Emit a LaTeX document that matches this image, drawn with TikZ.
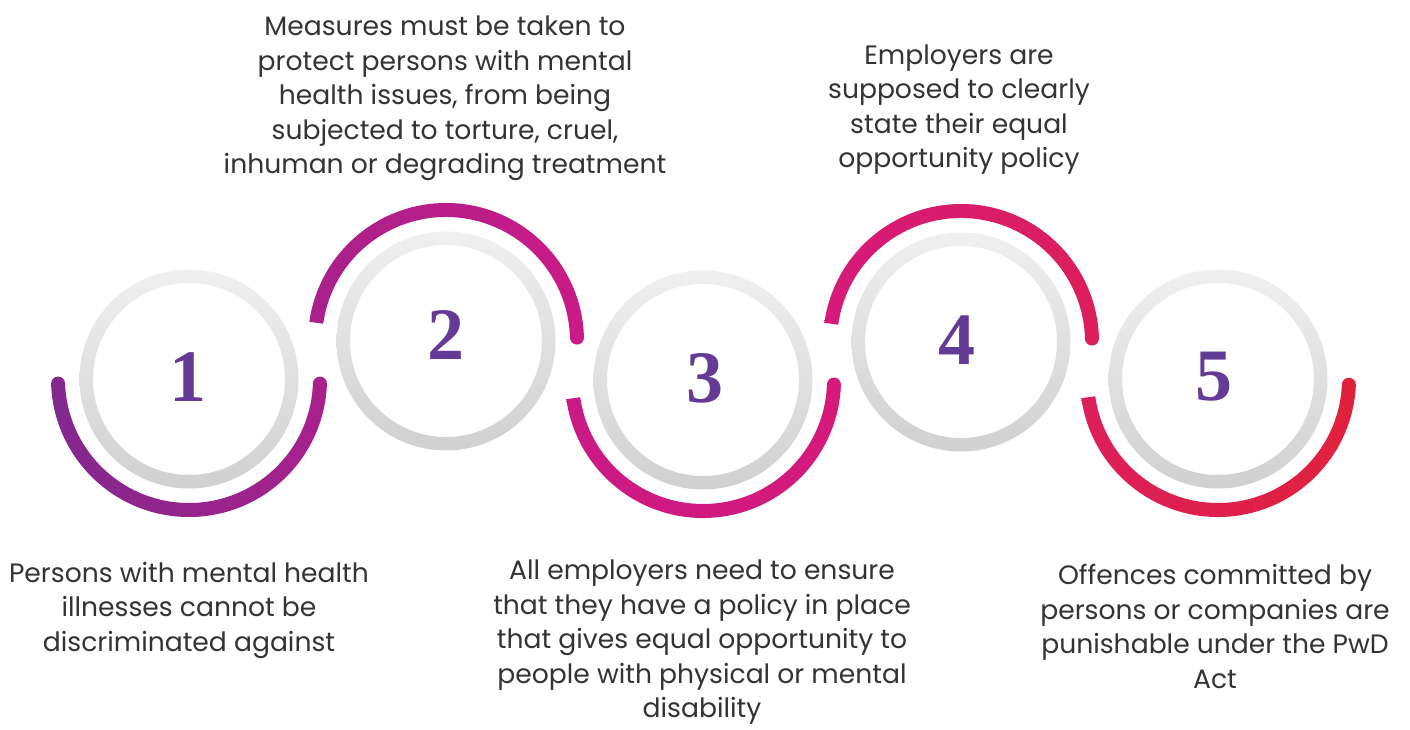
\documentclass[tikz,border=0pt]{standalone}
\usepackage{fontspec}
\setmainfont{Poppins}
\newfontfamily\numfont{Liberation Serif}
\usetikzlibrary{calc}

\definecolor{ringtop}{HTML}{F0F0F0}
\definecolor{ringbot}{HTML}{D0D0D0}
\definecolor{numpurple}{HTML}{653A96}
\definecolor{txtgray}{HTML}{333333}
\definecolor{arcA}{HTML}{82288D}
\definecolor{arcB}{HTML}{A8218B}
\definecolor{arcC}{HTML}{CA1A86}
\definecolor{arcD}{HTML}{D51A7A}
\definecolor{arcE}{HTML}{DC1F5A}
\definecolor{arcF}{HTML}{E0213C}

% band around a ring: centre, start, end, start cap, end cap, left colour, right colour
\newcommand\bandarc[7]{%
  \shade[left color=#6, right color=#7]
    ($(#1)+(#2:138)$) arc[start angle=#2, end angle=#3, radius=138]
    arc[start angle=#3, end angle=#3+180, radius=#5]
    -- ($(#1)+(#3:124)$)
    arc[start angle=#3, end angle=#2, radius=124]
    arc[start angle=#2+180, end angle=#2+360, radius=#4] -- cycle;
}

\begin{document}
\begin{tikzpicture}[x=1pt, y=1pt,
    ring/.style={top color=ringtop, bottom color=ringbot, even odd rule},
    num/.style={font=\numfont\bfseries\fontsize{74}{74}\selectfont, text=numpurple, inner sep=0pt},
    note/.style={font=\fontsize{26.6}{34.5}\selectfont, text=txtgray, align=center, inner sep=0pt}
  ]
  \useasboundingbox (0,0) rectangle (1410,729);

  % centres of the five rings
  \coordinate (c1) at (189,350);
  \coordinate (c2) at (446,388);
  \coordinate (c3) at (703,349);
  \coordinate (c4) at (961,387);
  \coordinate (c5) at (1218,350);

  % grey rings
  \foreach \i in {1,...,5}
    \shade[ring] (c\i) circle[radius=109.5] (c\i) circle[radius=96];

  % coloured bands, alternating below and above
  \bandarc{c1}{182}{358}{7}{7}{arcA}{arcB}
  \bandarc{c2}{1.5}{172}{7}{0}{arcB}{arcC}
  \bandarc{c3}{188}{358}{0}{7}{arcC}{arcD}
  \bandarc{c4}{1.5}{172}{7}{0}{arcD}{arcE}
  \bandarc{c5}{188}{357.5}{0}{7}{arcE}{arcF}

  % step numbers
  \node[num] (n1) at (188,351.5) {1};
  \node[num] (n2) at (446,394) {2};
  \node[num] (n3) at (705,351) {3};
  \node[num] (n4) at (957,389) {4};
  \node[num] (n5) at (1214,352) {5};

  % notes
  \node[note, anchor=north] (t1) at (189,167) {Persons with mental health\\illnesses cannot be\\discriminated against};
  \node[note, anchor=south] (t2) at (445,548) {Measures must be taken to\\protect persons with mental\\health issues, from being\\subjected to torture, cruel,\\inhuman or degrading treatment};
  \node[note, anchor=north] (t3) at (702,169) {All employers need to ensure\\that they have a policy in place\\that gives equal opportunity to\\people with physical or mental\\disability};
  \node[note, anchor=south] (t4) at (959,554) {Employers are\\supposed to clearly\\state their equal\\opportunity policy};
  \node[note, anchor=north] (t5) at (1215,165) {Offences committed by\\persons or companies are\\punishable under the PwD\\Act};
\end{tikzpicture}
\end{document}
